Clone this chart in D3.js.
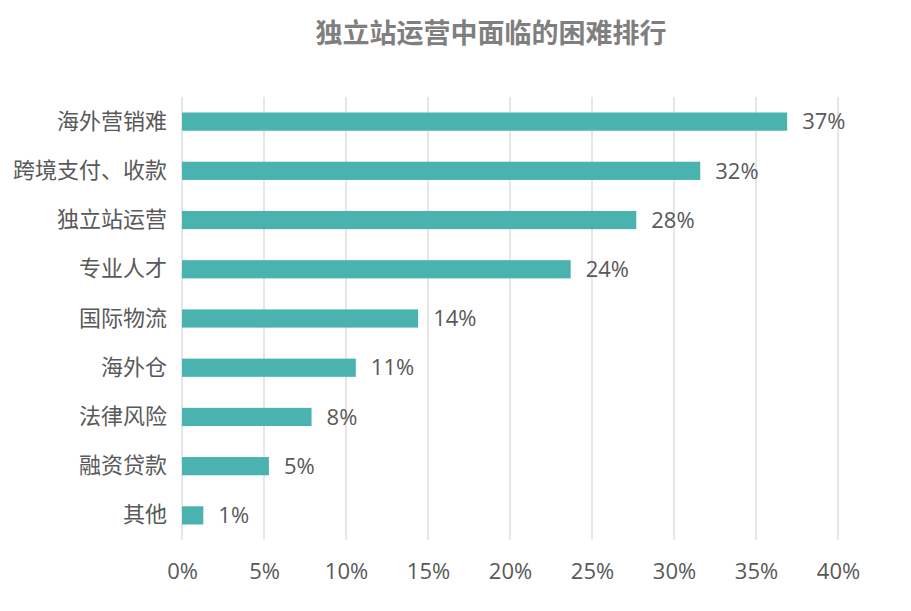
<!DOCTYPE html>
<html>
<head>
<meta charset="utf-8">
<script src="https://cdn.jsdelivr.net/npm/d3@7"></script>
<style>
  html, body { margin: 0; padding: 0; background: #fff; }
  #chart { width: 911px; height: 611px; }
  text { font-family: "Open Sans", "Noto Sans CJK SC", sans-serif; }
</style>
</head>
<body>
<div id="chart"></div>
<script>
// categories, top to bottom
const categories = ['海外营销难', '跨境支付、收款', '独立站运营', '专业人才', '国际物流', '海外仓', '法律风险', '融资贷款', '其他'];
// share of respondents (%)
const values = [36.9, 31.6, 27.7, 23.7, 14.4, 10.6, 7.9, 5.3, 1.3];
// labels as printed next to the bars
const valueLabels = ['37%', '32%', '28%', '24%', '14%', '11%', '8%', '5%', '1%'];
const xTicks = [0, 5, 10, 15, 20, 25, 30, 35, 40];

const width = 911, height = 611;
const margin = { top: 97, right: 73, bottom: 71, left: 182 };

const svg = d3.select('#chart')
  .append('svg')
  .attr('width', width)
  .attr('height', height);

const x = d3.scaleLinear()
  .domain([0, 40])
  .range([margin.left, width - margin.right]);

const y = d3.scaleBand()
  .domain(categories)
  .range([margin.top, height - margin.bottom])
  .paddingInner(0.63)
  .paddingOuter(0.315);

// title
svg.append('text')
  .attr('x', 491)
  .attr('y', 43)
  .attr('text-anchor', 'middle')
  .attr('fill', '#7f7f7f')
  .style('font-size', '27px')
  .style('font-weight', 'bold')
  .text('独立站运营中面临的困难排行');

// vertical gridlines
svg.append('g')
  .selectAll('line')
  .data(xTicks)
  .enter()
  .append('line')
  .attr('x1', d => x(d))
  .attr('x2', d => x(d))
  .attr('y1', margin.top)
  .attr('y2', height - margin.bottom)
  .attr('stroke', '#d9d9d9')
  .attr('stroke-width', 1.3);

// x axis labels
const xAxis = svg.append('g')
  .attr('transform', `translate(0,${height - margin.bottom})`)
  .call(d3.axisBottom(x).tickValues(xTicks).tickFormat(d => d + '%').tickSize(0).tickPadding(23));
xAxis.select('.domain').remove();
xAxis.selectAll('text')
  .attr('fill', '#595959')
  .style('font-size', '22px');

// y axis labels
const yAxis = svg.append('g')
  .attr('transform', `translate(${margin.left},0)`)
  .call(d3.axisLeft(y).tickSize(0).tickPadding(15));
yAxis.select('.domain').remove();
yAxis.selectAll('text')
  .attr('fill', '#595959')
  .style('font-size', '22px');

// bars
svg.append('g')
  .selectAll('rect')
  .data(categories)
  .enter()
  .append('rect')
  .attr('x', x(0))
  .attr('y', d => y(d))
  .attr('width', (d, i) => x(values[i]) - x(0))
  .attr('height', y.bandwidth())
  .attr('fill', '#4bb3af');

// value labels
svg.append('g')
  .selectAll('text')
  .data(categories)
  .enter()
  .append('text')
  .attr('x', (d, i) => x(values[i]) + 15)
  .attr('y', d => y(d) + y.bandwidth() / 2)
  .attr('dy', '0.35em')
  .attr('fill', '#595959')
  .style('font-size', '22px')
  .text((d, i) => valueLabels[i]);
</script>
</body>
</html>
